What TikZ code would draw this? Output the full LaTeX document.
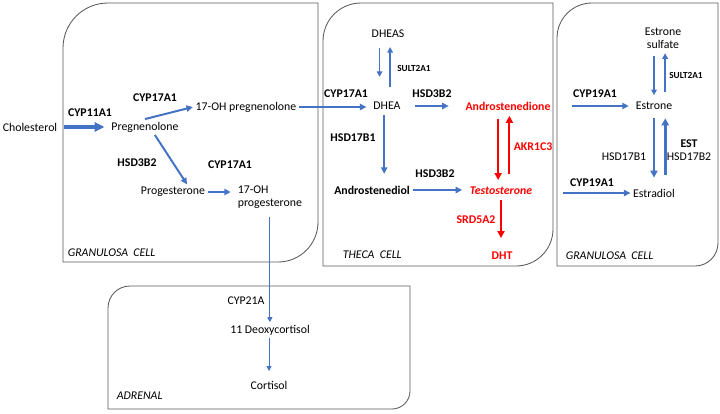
\documentclass[tikz,border=0pt]{standalone}
\usepackage{fontspec}
\setmainfont{Carlito}
\usetikzlibrary{arrows.meta}
\definecolor{steroidblue}{HTML}{4472C4}
\definecolor{enzred}{HTML}{FF0000}

\begin{document}
\begin{tikzpicture}[x=0.025cm, y=-0.025cm,
  every node/.style={font=\fontsize{8.4}{9.2}\selectfont, inner sep=2pt, outer sep=0pt},
  enzyme/.style={font=\fontsize{8.4}{9.2}\selectfont\bfseries},
  smallenz/.style={font=\fontsize{6.6}{8}\selectfont\bfseries},
  androgen/.style={text=enzred, font=\fontsize{8.4}{9.2}\selectfont\bfseries},
  celllabel/.style={anchor=west, font=\fontsize{8.4}{9.2}\selectfont\itshape},
  cell/.style={draw=black!65, line width=0.6pt},
  flow/.style={steroidblue, line width=1.4pt, -{Triangle[length=4.6pt,width=4.4pt]}},
  thickflow/.style={steroidblue, line width=2.8pt, -{Triangle[length=7pt,width=6.5pt]}},
  boldflow/.style={steroidblue, line width=1.9pt, -{Triangle[length=5pt,width=5pt]}},
  smallflow/.style={steroidblue, line width=1.1pt, -{Triangle[length=4pt,width=4pt]}},
  thinflow/.style={steroidblue, line width=0.7pt, -{Triangle[length=3.5pt,width=3.5pt]}},
  redflow/.style={enzred, line width=1.5pt, -{Triangle[length=5pt,width=5pt]}}]
\useasboundingbox (0,0) rectangle (720,413);

\draw[cell] (63,262) -- (63,48) to[out=90,in=180] (108,3) -- (318,3) -- (318,222) to[out=-90,in=0] (278,262) -- cycle;
\draw[cell] (323,266) -- (323,41) to[out=90,in=180] (361,3) -- (553,3) -- (553,229) to[out=-90,in=0] (516,266) -- cycle;
\draw[cell] (557,266) -- (557,38) to[out=90,in=180] (592,3) -- (718,3) -- (718,243) to[out=-90,in=0] (695,266) -- cycle;
\draw[cell] (108,409) -- (108,308) to[out=90,in=180] (130,286) -- (410,286) -- (410,391) to[out=-90,in=0] (392,409) -- cycle;

\node (chol) at (30,127) {Cholesterol};
\node (preg) at (145,127) {Pregnenolone};
\node (ohpreg) at (246,107) {17-OH pregnenolone};
\node (prog) at (173,192) {Progesterone};
\node[anchor=west, align=left] (ohprog) at (235,197) {17-OH\\progesterone};
\node (deoxy) at (270,330) {11 Deoxycortisol};
\node (cortisol) at (269,385) {Cortisol};
\node (dheas) at (388,34) {DHEAS};
\node (dhea) at (387,106) {DHEA};
\node[androgen] (andione) at (508,106) {Androstenedione};
\node[enzyme] (andiol) at (372,190) {Androstenediol};
\node[androgen, font=\fontsize{8.4}{9.2}\selectfont\bfseries\itshape] (testo) at (501,191) {Testosterone};
\node[androgen] (dht) at (502,256) {DHT};
\node[align=center] (esul) at (663,38) {Estrone\\sulfate};
\node (estrone) at (654,106) {Estrone};
\node (estradiol) at (654,193) {Estradiol};

\node[enzyme] (cyp11) at (90,113) {CYP11A1};
\node[enzyme] (cyp17a) at (155,98) {CYP17A1};
\node[enzyme] (hsd3a) at (137,163) {HSD3B2};
\node[enzyme] (cyp17b) at (230,165) {CYP17A1};
\node (cyp21) at (246,301) {CYP21A};
\node[enzyme] (cyp17c) at (346,94) {CYP17A1};
\node[smallenz] (sulta) at (414,68) {SULT2A1};
\node[enzyme] (hsd3b) at (432,94) {HSD3B2};
\node[enzyme] (hsd17a) at (353,138) {HSD17B1};
\node[enzyme] (hsd3c) at (435,174) {HSD3B2};
\node[androgen] (akr) at (533,147) {AKR1C3};
\node[androgen] (srd) at (476,220) {SRD5A2};
\node[enzyme] (cyp19a) at (595,94) {CYP19A1};
\node[smallenz] (sultb) at (686,75) {SULT2A1};
\node[enzyme] (est) at (689,144) {EST};
\node (hsd17bb) at (689,157) {HSD17B2};
\node (hsd17ba) at (624,157) {HSD17B1};
\node[enzyme] (cyp19b) at (592,183) {CYP19A1};

\node[celllabel] (gca) at (65,253) {GRANULOSA\ \ CELL};
\node[celllabel] (theca) at (340,255) {THECA\ \ CELL};
\node[celllabel] (gcb) at (563,256) {GRANULOSA\ \ CELL};
\node[celllabel] (adrenal) at (114,396) {ADRENAL};

\coordinate (inone) at (572,106);
\coordinate (intwo) at (563,193);

\draw[thickflow, shorten <=3pt, shorten >=3pt] (chol) -- (preg);
\draw[flow] (preg.north) -- (ohpreg.west);
\draw[flow] ([xshift=7pt]preg.south) -- ([xshift=10pt]prog.north);
\draw[flow, shorten >=3pt] (prog.east) -- (prog.east -| ohprog.west);
\draw[flow, shorten >=3pt] (ohpreg.east) -- (ohpreg.east -| dhea.west);
\draw[thinflow, shorten <=4pt] (ohprog.south) -- (ohprog.south |- deoxy.north);
\draw[thinflow, shorten >=5pt] (deoxy.south -| cortisol.north) -- (cortisol.north);

\draw[smallflow, shorten <=5pt, shorten >=16pt] ([xshift=-6pt]dheas.south) -- ([xshift=-6pt]dheas.south |- dhea.north);
\draw[smallflow, shorten <=8.5pt, shorten >=4.5pt] ([xshift=1.5pt]dheas.south |- dhea.north) -- ([xshift=1.5pt]dheas.south);
\draw[flow, shorten <=8.5pt, shorten >=10pt] (dhea) -- (andione);
\draw[flow, shorten <=2pt, shorten >=6.5pt] ([xshift=-2pt]dhea.south) -- ([xshift=-2pt]dhea.south |- andiol.north);
\draw[flow, shorten >=3.5pt] (andiol.east) -- (andiol.east -| testo.west);
\draw[redflow, shorten <=4pt, shorten >=3pt] ([xshift=-7pt]andione.south) -- ([xshift=-7pt]andione.south |- testo.north);
\draw[redflow, shorten <=7pt, shorten >=2pt] ([xshift=1pt]andione.south |- testo.north) -- ([xshift=1pt]andione.south);
\draw[redflow, shorten <=2pt, shorten >=8pt] (testo.south) -- (testo.south |- dht.north);

\draw[flow, shorten >=3pt] (inone) -- (estrone.west);
\draw[smallflow, shorten <=3.5pt, shorten >=3pt] ([xshift=-6.4pt]esul.south) -- ([xshift=-6.4pt]esul.south |- estrone.north);
\draw[smallflow, shorten <=5pt, shorten >=1.5pt] ([xshift=1.5pt]esul.south |- estrone.north) -- ([xshift=1.5pt]esul.south);
\draw[boldflow, shorten <=4pt, shorten >=6pt] (estrone.south) -- (estrone.south |- estradiol.north);
\draw[boldflow, shorten <=8pt, shorten >=4pt] ([xshift=8pt]estrone.south |- estradiol.north) -- ([xshift=8pt]estrone.south);
\draw[flow] (intwo) -- (estradiol.west);
\end{tikzpicture}
\end{document}
